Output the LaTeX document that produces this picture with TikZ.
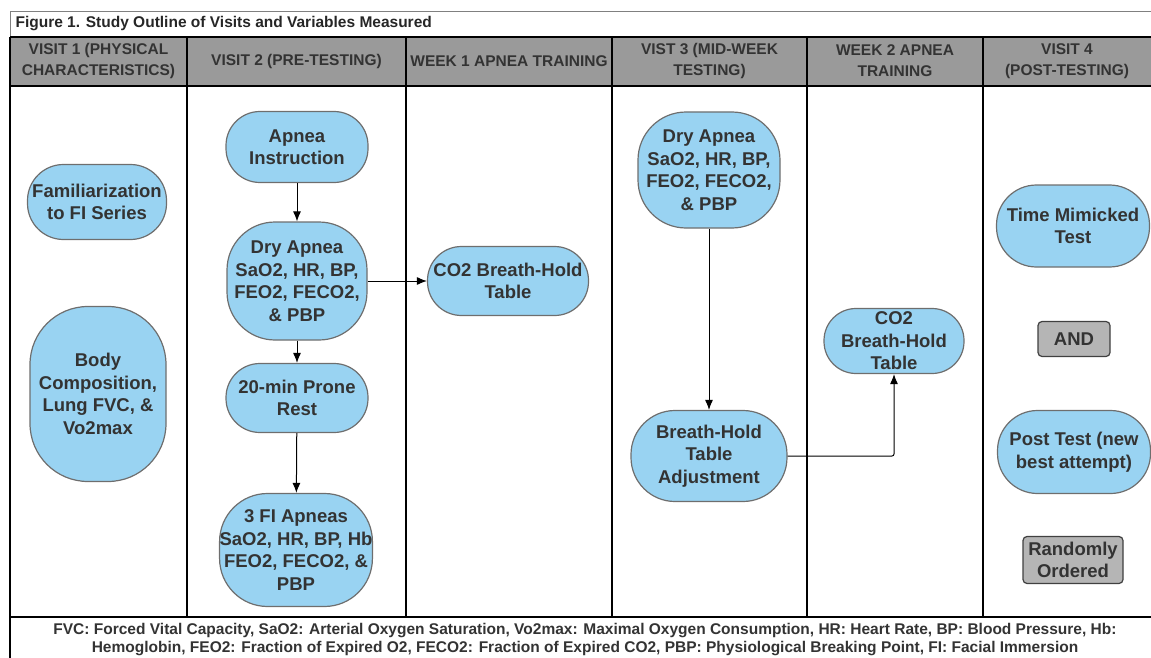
\documentclass[tikz,border=0pt]{standalone}
\usepackage{fontspec}
\setmainfont{Liberation Sans}
\usetikzlibrary{positioning,arrows.meta}
\definecolor{boxblue}{HTML}{99D3F2}
\definecolor{boxline}{HTML}{6E6E6E}
\definecolor{headgray}{HTML}{9A9A9A}
\definecolor{textgray}{HTML}{333333}
\definecolor{andgray}{HTML}{B5B5B5}

\begin{document}
\begin{tikzpicture}[x=1pt, y=-1pt,
  pill/.style={draw=boxline, fill=boxblue, line width=1.2pt, rounded corners=34pt,
    align=center, inner sep=0pt, text=textgray, font=\fontsize{18.5}{22.5}\selectfont\bfseries},
  tagbox/.style={draw=black!75, fill=andgray, line width=1.2pt, rounded corners=4pt,
    align=center, inner sep=0pt, text=textgray, font=\fontsize{18.5}{22.5}\selectfont\bfseries},
  headtext/.style={align=center, text=textgray, font=\fontsize{15.5}{21}\selectfont\bfseries},
  flow/.style={-{Latex[length=10pt,width=8pt]}, line width=1pt}]
\useasboundingbox (0,0) rectangle (1151,658);

% Title row
\draw[gray, line width=1pt] (10,37) -- (10,12) -- (1151,12);
\node[anchor=west, text=black!85, font=\fontsize{15.5}{18}\selectfont\bfseries] (title) at (12,23.5) {Figure 1. Study Outline of Visits and Variables Measured};

% Header row and columns
\fill[headgray] (10,37) rectangle (1151,86);
\draw[line width=1.2pt] (10,37) -- (1151,37);
\draw[line width=1.2pt] (10,86) -- (1151,86);
\draw[line width=1.2pt] (10,37) -- (10,658);
\draw[line width=1.2pt] (10,617) -- (1151,617);
\foreach \x in {187,406,612,807,983} {
    \draw[line width=1.2pt] (\x,37) -- (\x,617);
}
\foreach \i/\x/\t in {1/98.5/{VISIT 1 (PHYSICAL\\CHARACTERISTICS)}, 2/296.5/{VISIT 2 (PRE-TESTING)},
    3/509/{WEEK 1 APNEA TRAINING}, 4/709.5/{VIST 3 (MID-WEEK\\TESTING)},
    5/895/{WEEK 2 APNEA\\TRAINING}, 6/1067/{VISIT 4\\(POST-TESTING)}} {
    \node[headtext] (h\i) at (\x,61) {\t};
}

% Visit 1
\node[pill, rounded corners=36pt, minimum width=139pt, minimum height=75pt] (fam) at (97,202) {Familiarization\\to FI Series};
\node[pill, rounded corners=58pt, minimum width=136pt, minimum height=175pt] (body) at (98,394) {Body\\Composition,\\Lung FVC, \&\\Vo2max};

% Visit 2
\node[pill, minimum width=142pt, minimum height=71pt] (instr) at (297,147) {Apnea\\Instruction};
\node[pill, rounded corners=48pt, minimum width=140pt, minimum height=118pt] (dry2) at (297,281) {Dry Apnea\\SaO2, HR, BP,\\FEO2, FECO2,\\\& PBP};
\node[pill, minimum width=142pt, minimum height=69pt] (prone) at (297,398) {20-min Prone\\Rest};
\node[pill, rounded corners=48pt, minimum width=152pt, minimum height=113pt] (fi) at (296,550) {3 FI Apneas\\SaO2, HR, BP, Hb\\FEO2, FECO2, \&\\PBP};

% Week 1
\node[pill, minimum width=161pt, minimum height=69pt] (co2a) at (508,281) {CO2 Breath-Hold\\Table};

% Visit 3
\node[pill, rounded corners=48pt, minimum width=142pt, minimum height=116pt] (dry3) at (709,170) {Dry Apnea\\SaO2, HR, BP,\\FEO2, FECO2,\\\& PBP};
\node[pill, rounded corners=44pt, minimum width=156pt, minimum height=91pt] (adj) at (709,456) {Breath-Hold\\Table\\Adjustment};

% Week 2
\node[pill, rounded corners=32pt, minimum width=140pt, minimum height=65pt] (co2b) at (894,341) {CO2\\Breath-Hold\\Table};

% Visit 4
\node[pill, rounded corners=40pt, minimum width=153pt, minimum height=82pt] (mimic) at (1073,226) {Time Mimicked\\Test};
\node[tagbox, minimum width=72pt, minimum height=35pt] (and) at (1074,339) {AND};
\node[pill, rounded corners=40pt, minimum width=153pt, minimum height=83pt] (post) at (1074,452) {Post Test (new\\best attempt)};
\node[tagbox, minimum width=100pt, minimum height=47pt] (rand) at (1073,560) {Randomly\\Ordered};

% Arrows
\draw[flow] (instr) -- (dry2);
\draw[flow] (dry2) -- (prone);
\draw[flow] (prone) -- (fi);
\draw[flow] (dry2) -- (co2a);
\draw[flow] (dry3) -- (adj);
\draw[flow, rounded corners=2pt] (adj.east) -| (co2b.south);

% Legend
\node[align=center, text=textgray, font=\fontsize{15.5}{18}\selectfont\bfseries] (legend) at (585,640) {FVC: Forced Vital Capacity, SaO2: Arterial Oxygen Saturation, Vo2max: Maximal Oxygen Consumption, HR: Heart Rate, BP: Blood Pressure, Hb:\\Hemoglobin, FEO2: Fraction of Expired O2, FECO2: Fraction of Expired CO2, PBP: Physiological Breaking Point, FI: Facial Immersion};
\end{tikzpicture}
\end{document}
